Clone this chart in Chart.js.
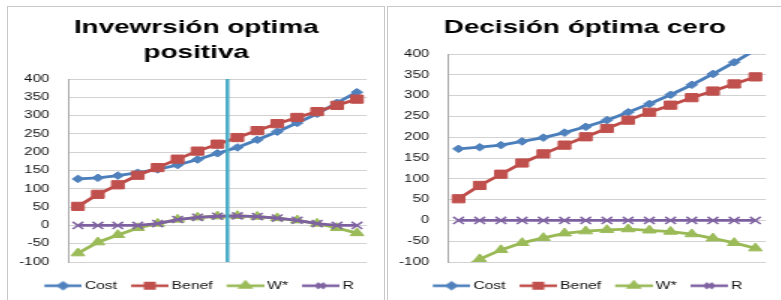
<!DOCTYPE html>
<html>
<head>
<meta charset="utf-8">
<script src="https://cdn.jsdelivr.net/npm/chart.js@4.4.1/dist/chart.umd.min.js"></script>
<style>
html,body{margin:0;padding:0;background:#fff;width:781px;height:300px;overflow:hidden;}
.box{position:absolute;border:1px solid #c8c8c8;box-sizing:border-box;}
canvas{position:absolute;transform-origin:0 0;transform:scaleX(1.5);}
</style>
</head>
<body>
<div class="box" style="left:7px;top:6px;width:378px;height:300px"></div>
<div class="box" style="left:387px;top:6px;width:400px;height:300px"></div>
<canvas id="c1" width="251" height="293" style="left:8px;top:7px"></canvas>
<canvas id="c2" width="261" height="293" style="left:389px;top:7px"></canvas>
<script>
// ---- data ----
const categories = ['1','2','3','4','5','6','7','8','9','10','11','12','13','14','15'];
const yTicks = [-100,-50,0,50,100,150,200,250,300,350,400];
const seriesNames = ['Cost','Benef','W*','R'];

const titleLeft = ['Invewrsión optima', 'positiva'];
const costLeft  = [127,130,136,144,153,165,180,197,213,234,256,280,305,335,364];
const benefLeft = [52,85,111,137,158,181,203,222,240,259,278,295,311,328,345];
const wLeft     = [-76,-46,-26,-7,5,16,22,25,26,24,20,14,5,-7,-21];
const rLeft     = [0,0,0,0,5,16,22,25,26,24,20,14,5,0,0];
const optimumLeft = [7.5]; // vertical marker between 8th and 9th category

const titleRight = ['Decisión óptima cero'];
const costRight  = [172,176,181,190,199,211,225,241,260,280,302,326,352,380,410];
const benefRight = [52,84,111,138,160,181,201,221,241,260,277,295,311,328,345];
const wRight     = [-118,-93,-71,-54,-42,-31,-26,-23,-21,-24,-27,-33,-43,-54,-67];
const rRight     = [0,0,0,0,0,0,0,0,0,0,0,0,0,0,0];
const optimumRight = [];

// ---- styles ----
const colors = {
  line:   ['#4A7EBB','#BE4B48','#98B954','#7D60A0'],
  marker: ['#4F81BD','#C0504D','#9BBB59','#8064A2']
};
const styles = ['rectRot','rect','triangle','crossRot'];
const radii = [3.8,5.8,5.2,5];
const legendRadii = [2.8,3.8,3.6,3.6];
const FONT = "'Liberation Sans', Arial, sans-serif";
const ICON_MARGIN = 7;   // transparent space before the legend line
const ICON_LINE = 25;

function legendIcon(i){
  const c = document.createElement('canvas');
  c.width = ICON_LINE + ICON_MARGIN; c.height = 12;
  const ctx = c.getContext('2d');
  ctx.strokeStyle = colors.line[i];
  ctx.lineWidth = 2.6;
  ctx.beginPath(); ctx.moveTo(ICON_MARGIN,6); ctx.lineTo(ICON_MARGIN + ICON_LINE,6); ctx.stroke();
  ctx.fillStyle = colors.marker[i];
  ctx.strokeStyle = colors.marker[i];
  Chart.helpers.drawPoint(ctx, {pointStyle: styles[i], radius: legendRadii[i], rotation: 0, borderWidth: 1.5}, ICON_MARGIN + ICON_LINE / 2, 6);
  return c;
}
const icons = [0,1,2,3].map(legendIcon);

const vlinePlugin = {
  id: 'vline',
  afterDatasetsDraw(chart, args, opts) {
    const xs = chart.scales.x, a = chart.chartArea, ctx = chart.ctx;
    (opts.values || []).forEach(v => {
      const x = xs.getPixelForValue(v);
      ctx.save();
      ctx.strokeStyle = '#4BACC6';
      ctx.lineWidth = 2.5;
      ctx.beginPath(); ctx.moveTo(x, a.top); ctx.lineTo(x, a.bottom); ctx.stroke();
      ctx.restore();
    });
  }
};

function makeChart(id, title, series, optimum, yWidth, rightSpace) {
  const datasets = series.map((d, i) => ({
    label: seriesNames[i],
    data: d,
    borderColor: colors.line[i],
    backgroundColor: colors.marker[i],
    pointBackgroundColor: colors.marker[i],
    pointBorderColor: colors.marker[i],
    pointBorderWidth: i === 3 ? 1.5 : 1,
    pointStyle: styles[i],
    pointRadius: radii[i],
    borderWidth: 2.8,
    tension: 0,
    order: 4 - i
  }));
  return new Chart(document.getElementById(id), {
    type: 'line',
    data: { labels: categories, datasets },
    plugins: [vlinePlugin],
    options: {
      responsive: false,
      animation: false,
      events: [],
      layout: { padding: { left: 0, right: 0, top: 0, bottom: -1 } },
      scales: {
        x: {
          offset: true,
          grid: { display: false },
          border: { display: false },
          ticks: { display: false },
          afterFit(s) { s.height = 13; }
        },
        y: {
          min: -100, max: 400,
          afterBuildTicks(s) { s.ticks = yTicks.map(v => ({ value: v })); },
          grid: { color: '#d2d2d2', lineWidth: 1, drawTicks: false },
          border: { display: true, color: '#a8a8a8', width: 1 },
          ticks: { padding: 12.5, color: '#111', font: { family: FONT, size: 10 } },
          afterFit(s) { s.width = yWidth; }
        },
        yRightSpace: {
          type: 'linear',
          position: 'right',
          grid: { display: false },
          border: { display: false },
          ticks: { display: false },
          afterFit(s) { s.width = rightSpace; }
        }
      },
      plugins: {
        vline: { values: optimum },
        title: {
          display: true,
          text: title,
          color: '#000',
          font: { family: FONT, size: 18.6, weight: 'bold', lineHeight: 25 / 18.6 },
          padding: { top: 8.5, bottom: 13.5 }
        },
        legend: {
          position: 'bottom',
          labels: {
            usePointStyle: true,
            pointStyleWidth: 18.5 + ICON_MARGIN,
            padding: 5.5,
            color: '#111',
            font: { family: FONT, size: 10.5 },
            generateLabels(chart) {
              const items = Chart.defaults.plugins.legend.labels.generateLabels(chart);
              items.sort((a, b) => a.datasetIndex - b.datasetIndex);
              items.forEach(it => { it.pointStyle = icons[it.datasetIndex]; });
              return items;
            }
          }
        },
        tooltip: { enabled: false }
      }
    }
  });
}

makeChart('c1', titleLeft, [costLeft, benefLeft, wLeft, rLeft], optimumLeft, 40, 11.7);
makeChart('c2', titleRight, [costRight, benefRight, wRight, rRight], optimumRight, 39.3, 9.7);
</script>
</body>
</html>
